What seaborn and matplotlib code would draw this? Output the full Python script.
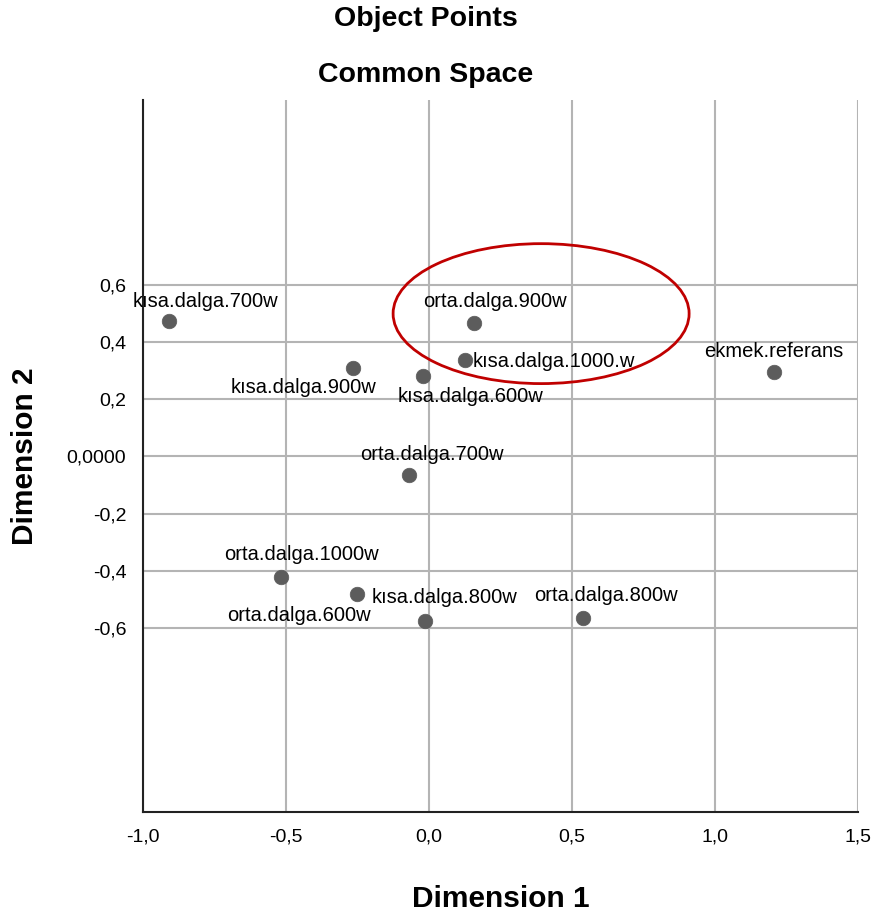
import matplotlib
matplotlib.use("Agg")
import matplotlib.pyplot as plt
import seaborn as sns
import pandas as pd
from matplotlib.patches import Ellipse

labels = ["kısa.dalga.700w", "orta.dalga.900w", "kısa.dalga.1000.w", "kısa.dalga.900w",
          "kısa.dalga.600w", "ekmek.referans", "orta.dalga.700w", "orta.dalga.1000w",
          "kısa.dalga.800w", "orta.dalga.600w", "orta.dalga.800w"]
dim1 = [-0.909, 0.157, 0.126, -0.266, -0.021, 1.206, -0.070, -0.517, -0.252, -0.014, 0.538]
dim2 = [0.475, 0.468, 0.339, 0.311, 0.283, 0.294, -0.066, -0.423, -0.483, -0.577, -0.566]

xticks = [-1.0, -0.5, 0.0, 0.5, 1.0, 1.5]
xticklabels = ["-1,0", "-0,5", "0,0", "0,5", "1,0", "1,5"]
yticks = [-0.6, -0.4, -0.2, 0.0, 0.2, 0.4, 0.6]
yticklabels = ["-0,6", "-0,4", "-0,2", "0,0000", "0,2", "0,4", "0,6"]

# label placement (offset in pixels, horizontal alignment)
label_pos = [((36, 19), "center"), ((21, 21), "center"), ((8, -2), "left"), ((-49, -20), "center"),
             ((48, -21), "center"), ((0, 21), "center"), ((23, 21), "center"), ((20, 23), "center"),
             ((15, -3), "left"), ((-54, 6), "right"), ((23, 23), "center")]

df = pd.DataFrame({"Dimension 1": dim1, "Dimension 2": dim2, "label": labels})

sns.set_style("white")
plt.rcParams["font.family"] = ["Liberation Sans", "DejaVu Sans"]
plt.rcParams["text.color"] = "#000000"

fig = plt.figure(figsize=(8.73, 9.16), dpi=100)
ax = fig.add_axes([143/873, 1-812/916, (858-143)/873, (812-100)/916])

sns.scatterplot(data=df, x="Dimension 1", y="Dimension 2", ax=ax, s=110,
                color="#5c5c5c", edgecolor="#5c5c5c", linewidth=0.5, zorder=3)

px = 72/100
for (x, y, t), ((dx, dy), ha) in zip(zip(dim1, dim2, labels), label_pos):
    ax.annotate(t, (x, y), xytext=(dx*px, dy*px), textcoords="offset points",
                ha=ha, va="center", fontsize=14.5, color="#000000", zorder=4)

ax.add_patch(Ellipse((0.392, 0.50), 1.035, 0.49, fill=False, edgecolor="#c00000",
                     linewidth=2, zorder=5))

ax.set_xlim(-1.0, 1.5)
ax.set_ylim(-1.245, 1.248)
ax.set_xticks(xticks)
ax.set_xticklabels(xticklabels)
ax.set_yticks(yticks)
ax.set_yticklabels(yticklabels)
ax.tick_params(length=0, labelsize=14, pad=12, colors="#000000")
ax.grid(True, color="#b4b4b4", linewidth=1.5)
ax.set_axisbelow(True)
for s in ["top", "right"]:
    ax.spines[s].set_visible(False)
for s in ["left", "bottom"]:
    ax.spines[s].set_color("#222222")
    ax.spines[s].set_linewidth(1.5)

ax.set_xlabel("Dimension 1", fontsize=21.5, fontweight="bold", labelpad=28, color="#000000")
ax.set_ylabel("Dimension 2", fontsize=21.5, fontweight="bold", labelpad=20, color="#000000")

fig.text(0.488, 1-19/916, "Object Points", ha="center", va="center", fontsize=20.5, fontweight="bold", color="#000000")
fig.text(0.488, 1-75/916, "Common Space", ha="center", va="center", fontsize=20.5, fontweight="bold", color="#000000")

fig.savefig("out.png", dpi=100)
